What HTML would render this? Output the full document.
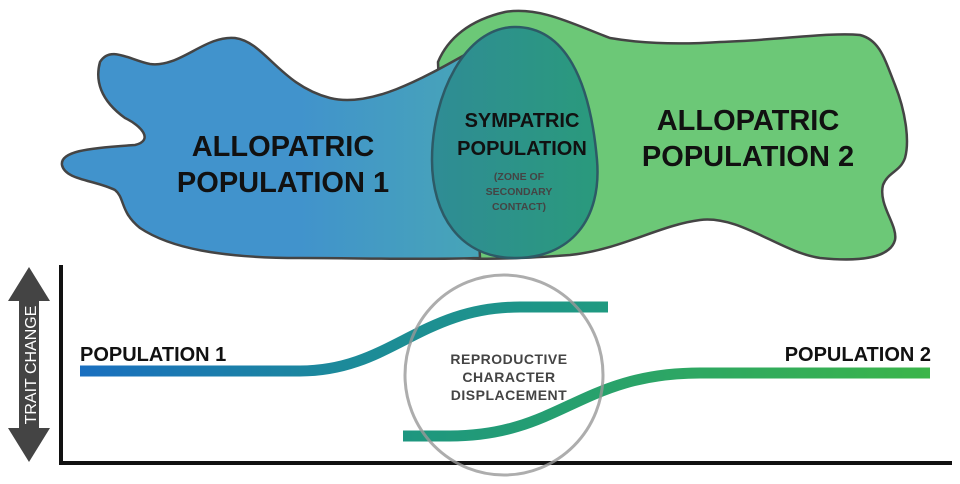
<!DOCTYPE html>
<html><head><meta charset="utf-8"><style>
html,body{margin:0;padding:0;background:#fff;}
svg{display:block;}
text{font-family:"Liberation Sans",sans-serif;font-weight:bold;}
</style></head><body>
<svg width="960" height="484" viewBox="0 0 960 484" xmlns="http://www.w3.org/2000/svg">
<defs>
<linearGradient id="blue" gradientUnits="userSpaceOnUse" x1="300" y1="0" x2="470" y2="0">
<stop offset="0" stop-color="#4193cc"/><stop offset="1" stop-color="#47a4b8"/></linearGradient>
<linearGradient id="egg" gradientUnits="userSpaceOnUse" x1="432" y1="0" x2="598" y2="0">
<stop offset="0" stop-color="#2f8c95"/><stop offset="1" stop-color="#2a9a7c"/></linearGradient>
<linearGradient id="l1" gradientUnits="userSpaceOnUse" x1="80" y1="0" x2="608" y2="0">
<stop offset="0" stop-color="#1a6fc0"/><stop offset="0.5" stop-color="#1c8a9a"/><stop offset="1" stop-color="#1f9a80"/></linearGradient>
<linearGradient id="l2" gradientUnits="userSpaceOnUse" x1="403" y1="0" x2="930" y2="0">
<stop offset="0" stop-color="#1d9680"/><stop offset="1" stop-color="#3bb54a"/></linearGradient>
</defs>
<!-- green blob -->
<path d="M438,62 C448,38 470,20 505,12 C540,6 575,25 610,38 C650,45 690,44 720,42 C780,40 830,32 860,35 C880,40 885,60 895,85 C905,110 910,140 905,158 C900,172 888,172 883,185 C878,205 898,225 895,240 C890,258 860,262 820,258 C780,252 740,215 700,220 C660,225 620,250 570,255 C530,258 490,260 460,258 C445,220 440,120 438,62 Z" fill="#6cc877" stroke="#444" stroke-width="2.5"/>
<!-- blue blob -->
<path d="M100,62 C110,45 130,60 150,64 C180,68 205,35 235,38 C265,42 280,85 330,98 C370,108 420,80 470,52 L480,258 C420,260 360,258 300,258 C220,258 170,248 140,228 C120,212 125,198 115,190 C95,180 65,180 62,165 C60,152 85,148 135,145 C155,140 140,125 125,118 C100,100 95,80 100,62 Z" fill="url(#blue)" stroke="#444" stroke-width="2.5"/>
<!-- egg -->
<path d="M515,27 C565,27 590,80 597,160 C602,220 570,258 515,258 C460,258 432,215 432,160 C432,95 465,27 515,27 Z" fill="url(#egg)" stroke="#2d5a66" stroke-width="2.5"/>
<text x="283" y="156" font-size="29" text-anchor="middle" fill="#111">ALLOPATRIC</text>
<text x="283" y="192" font-size="29" text-anchor="middle" fill="#111">POPULATION 1</text>
<text x="748" y="130" font-size="29" text-anchor="middle" fill="#111">ALLOPATRIC</text>
<text x="748" y="166" font-size="29" text-anchor="middle" fill="#111">POPULATION 2</text>
<text x="522" y="127" font-size="20" text-anchor="middle" fill="#111">SYMPATRIC</text>
<text x="522" y="155" font-size="20" text-anchor="middle" fill="#111">POPULATION</text>
<text x="519" y="180" font-size="10.5" text-anchor="middle" fill="#444">(ZONE OF</text>
<text x="519" y="195" font-size="10.5" text-anchor="middle" fill="#444">SECONDARY</text>
<text x="519" y="210" font-size="10.5" text-anchor="middle" fill="#444">CONTACT)</text>
<!-- axes -->
<path d="M61,265 L61,463 L952,463" fill="none" stroke="#111" stroke-width="4"/>
<!-- arrow -->
<path d="M29,267 L50,301 L39,301 L39,428 L50,428 L29,462 L8,428 L19,428 L19,301 L8,301 Z" fill="#444"/>
<text transform="translate(36,365) rotate(-90)" font-size="16" style="font-weight:normal" text-anchor="middle" fill="#fff">TRAIT CHANGE</text>
<!-- curves -->
<path d="M80,371 L300,371 C390,371 420,307 520,307 L608,307" fill="none" stroke="url(#l1)" stroke-width="11"/>
<path d="M403,436 L450,436 C560,436 580,373 700,373 L930,373" fill="none" stroke="url(#l2)" stroke-width="11"/>
<ellipse cx="504" cy="375" rx="99" ry="100" fill="none" stroke="#999" stroke-opacity="0.8" stroke-width="3"/>
<text x="80" y="361" font-size="20" fill="#111">POPULATION 1</text>
<text x="931" y="361" font-size="20" text-anchor="end" fill="#111">POPULATION 2</text>
<text x="509" y="364" font-size="14" text-anchor="middle" fill="#444" letter-spacing="0.5">REPRODUCTIVE</text>
<text x="509" y="382" font-size="14" text-anchor="middle" fill="#444" letter-spacing="0.5">CHARACTER</text>
<text x="509" y="400" font-size="14" text-anchor="middle" fill="#444" letter-spacing="0.5">DISPLACEMENT</text>
</svg>
</body></html>
